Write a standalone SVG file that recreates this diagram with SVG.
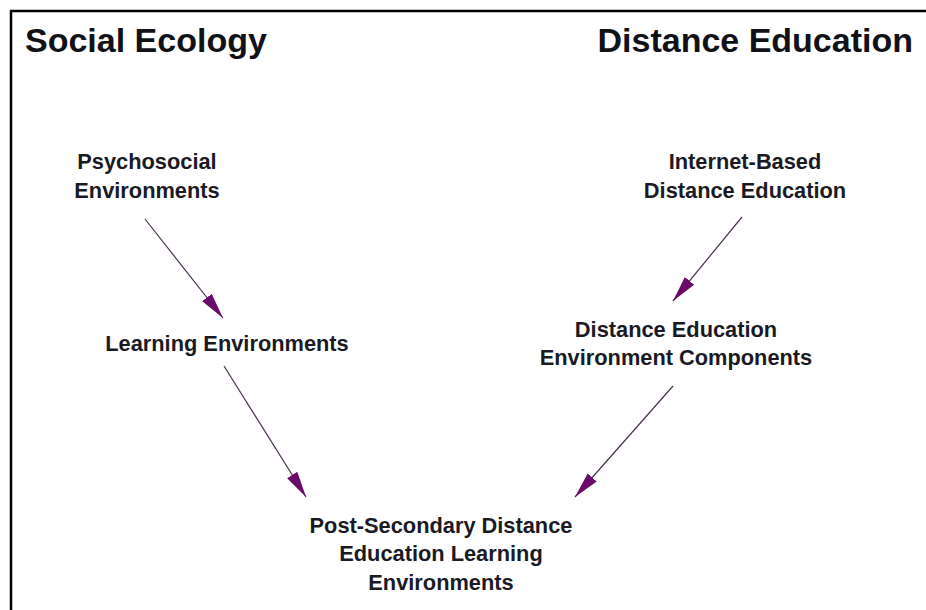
<svg xmlns="http://www.w3.org/2000/svg" width="926" height="610" viewBox="0 0 926 610">
<style>
.title{font-family:"Liberation Sans",Arial,sans-serif;font-weight:bold;font-size:34px;fill:#111118}
.lbl{font-family:"Liberation Sans",Arial,sans-serif;font-weight:bold;font-size:21.8px;fill:#1a1a24;text-anchor:middle}
.conn{stroke:#4a3050;stroke-width:1.2;fill:none;marker-end:url(#ah)}
</style>
<defs>
<marker id="ah" markerUnits="userSpaceOnUse" markerWidth="28" markerHeight="14" refX="26" refY="7" orient="auto">
<path d="M0,1 L26,7 L0,13 Z" fill="#6a0a6a"/>
</marker>
</defs>
<rect width="926" height="610" fill="#fff"/>
<path d="M11,610 V11 H926" stroke="#000" stroke-width="2.5" fill="none"/>
<g id="title-left"><text class="title" x="25" y="52">Social Ecology</text></g>
<g id="title-right"><text class="title" x="913" y="52" text-anchor="end">Distance Education</text></g>
<g id="psychosocial"><text class="lbl" x="147" y="169">Psychosocial</text><text class="lbl" x="147" y="198">Environments</text></g>
<g id="learning"><text class="lbl" x="227" y="351">Learning Environments</text></g>
<g id="internet"><text class="lbl" x="745" y="169">Internet-Based</text><text class="lbl" x="745" y="198">Distance Education</text></g>
<g id="components"><text class="lbl" x="676" y="337">Distance Education</text><text class="lbl" x="676" y="365">Environment Components</text></g>
<g id="postsecondary"><text class="lbl" x="441" y="533">Post-Secondary Distance</text><text class="lbl" x="441" y="561">Education Learning</text><text class="lbl" x="441" y="590">Environments</text></g>
<g id="connectors">
<line class="conn" x1="145" y1="219" x2="223" y2="318"/>
<line class="conn" x1="742" y1="217" x2="673" y2="301"/>
<line class="conn" x1="224" y1="366" x2="306" y2="497"/>
<line class="conn" x1="673" y1="386" x2="575" y2="497"/>
</g>
</svg>
